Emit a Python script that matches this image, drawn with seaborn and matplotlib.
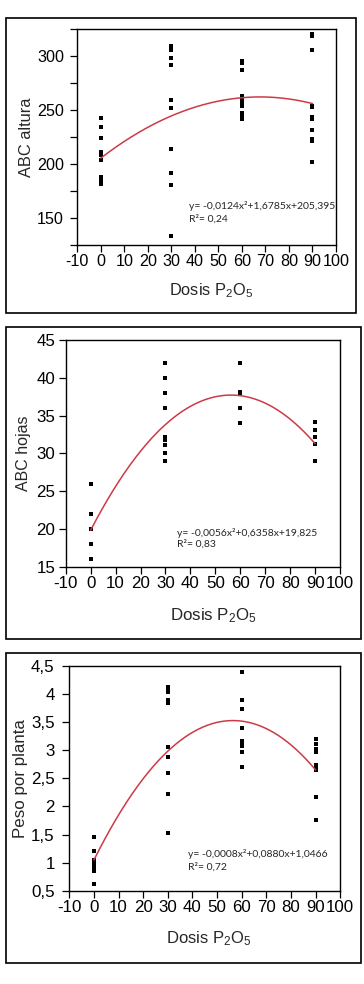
import numpy as np
import pandas as pd
import matplotlib
matplotlib.use("Agg")
import matplotlib.pyplot as plt
from matplotlib.patches import Rectangle
import seaborn as sns

# ---------------- data ----------------
dose_levels = [0, 30, 60, 90]

# Panel 1: ABC altura
altura_0 = [243, 234, 224, 211, 208.6, 203.4, 187.7, 184.7, 181.6]
altura_30 = [309.8, 307.7, 305.8, 298, 292, 259.8, 251.5, 213.8, 191.7, 180.7, 133.2]
altura_60 = [295.4, 293.6, 287.4, 262.9, 260.7, 258.6, 256.1, 253.7, 247, 243.9, 241.4]
altura_90 = [320.5, 318.4, 305.8, 253.7, 252.5, 243.9, 241.7, 231.6, 223, 220.9, 201.9]

# Panel 2: ABC hojas
hojas_0 = [26, 22, 20, 18, 16]
hojas_30 = [42, 40, 38, 36, 32.2, 31.8, 31.1, 30, 29]
hojas_60 = [42, 38.1, 37.9, 36, 34]
hojas_90 = [34.1, 33.1, 32.1, 31.2, 29]

# Panel 3: Peso por planta
peso_0 = [1.448, 1.211, 1.051, 0.992, 0.932, 0.885, 0.844, 0.624]
peso_30 = [4.132, 4.085, 4.038, 3.895, 3.848, 3.066, 2.876, 2.604, 2.218, 1.519]
peso_60 = [4.39, 3.895, 3.735, 3.403, 3.172, 3.125, 3.078, 2.977, 2.698]
peso_90 = [3.196, 3.113, 3.024, 2.977, 2.739, 2.698, 2.651, 2.165, 1.750]

# quadratic trend coefficients (a, b, c) as drawn
coef_altura = [-0.0124, 1.6785, 205.395]
coef_hojas = [-0.00565, 0.6358, 19.825]
coef_peso = [-0.00078, 0.0880, 1.0466]

eq_altura = ["y= -0,0124x\u00b2+1,6785x+205,395", "R\u00b2= 0,24"]
eq_hojas = ["y= -0,0056x\u00b2+0,6358x+19,825", "R\u00b2= 0,83"]
eq_peso = ["y= -0,0008x\u00b2+0,0880x+1,0466", "R\u00b2= 0,72"]

x_ticks = [-10, 0, 10, 20, 30, 40, 50, 60, 70, 80, 90, 100]
x_ticklabels = ["-10", "0", "10", "20", "30", "40", "50", "60", "70", "80", "90", "100"]

y1_ticks = [125, 150, 175, 200, 225, 250, 275, 300, 325]
y1_ticklabels = ["", "150", "", "200", "", "250", "", "300", ""]
y2_ticks = [15, 20, 25, 30, 35, 40, 45]
y2_ticklabels = ["15", "20", "25", "30", "35", "40", "45"]
y3_ticks = [0.5, 1, 1.5, 2, 2.5, 3, 3.5, 4, 4.5]
y3_ticklabels = ["0,5", "1", "1,5", "2", "2,5", "3", "3,5", "4", "4,5"]

ylabels = ["ABC altura", "ABC hojas", "Peso por planta"]
xlabel = "Dosis P$_2$O$_5$"

# ---------------- style ----------------
sns.set_style("ticks")
plt.rcParams["font.family"] = ["Liberation Sans", "DejaVu Sans"]
plt.rcParams["mathtext.fontset"] = "custom"
plt.rcParams["mathtext.rm"] = "Liberation Sans"
plt.rcParams["mathtext.it"] = "Liberation Sans"
plt.rcParams["mathtext.default"] = "regular"

W, H = 364, 984
fig = plt.figure(figsize=(W / 100, H / 100), dpi=100)


def frac_rect(l, t, r, b):
    return [l / W, 1 - b / H, (r - l) / W, (b - t) / H]


def long_df(groups):
    xs, ys = [], []
    for d, vals in zip(dose_levels, groups):
        xs += [d] * len(vals)
        ys += list(vals)
    return pd.DataFrame({"dosis": xs, "valor": ys})


panels = [
    dict(ax=(77.3, 29.3, 336, 244.7), box=(6, 17.5, 355.5, 312.7),
         groups=[altura_0, altura_30, altura_60, altura_90], coef=coef_altura,
         ylim=(125, 325), yticks=y1_ticks, yticklabels=y1_ticklabels,
         ylabel=ylabels[0], ylabel_px=27, ylabel_fs=11.8,
         xlabel_py=291, xlabel_px=211, xlabel_fs=11.8, tick_fs=11.6, ypad=4.5,
         eq=eq_altura, eq_pos=(189, 206, 219)),
    dict(ax=(65.7, 340, 340, 566.7), box=(6, 326.7, 361, 639),
         groups=[hojas_0, hojas_30, hojas_60, hojas_90], coef=coef_hojas,
         ylim=(15, 45), yticks=y2_ticks, yticklabels=y2_ticklabels,
         ylabel=ylabels[1], ylabel_px=24, ylabel_fs=11.5,
         xlabel_py=616, xlabel_px=213, xlabel_fs=12.2, tick_fs=12.2, ypad=2.5,
         eq=eq_hojas, eq_pos=(177, 533, 544.5)),
    dict(ax=(69.3, 666, 340.3, 890.7), box=(6, 653, 361, 963),
         groups=[peso_0, peso_30, peso_60, peso_90], coef=coef_peso,
         ylim=(0.5, 4.5), yticks=y3_ticks, yticklabels=y3_ticklabels,
         ylabel=ylabels[2], ylabel_px=21, ylabel_fs=12.2,
         xlabel_py=939, xlabel_px=209, xlabel_fs=12, tick_fs=12.2, ypad=5.5,
         eq=eq_peso, eq_pos=(188, 854, 867)),
]

for p in panels:
    l, t, r, b = p["ax"]
    ax = fig.add_axes(frac_rect(l, t, r, b))
    df = long_df(p["groups"])
    sns.scatterplot(data=df, x="dosis", y="valor", ax=ax, marker="s", s=7,
                    color="black", linewidth=0, legend=False)
    xs = np.linspace(0, 90, 200)
    curve = pd.DataFrame({"dosis": xs, "valor": np.polyval(p["coef"], xs)})
    sns.lineplot(data=curve, x="dosis", y="valor", ax=ax, color="#cc3a46",
                 linewidth=1.1, legend=False)

    ax.set_xlim(-10, 100)
    ax.set_ylim(*p["ylim"])
    ax.set_xticks(x_ticks)
    ax.set_xticklabels(x_ticklabels, fontsize=p["tick_fs"])
    ax.set_yticks(p["yticks"])
    ax.set_yticklabels(p["yticklabels"], fontsize=p["tick_fs"])
    ax.tick_params(axis="both", direction="out", length=5, width=0.9,
                   colors="black", top=False, right=False)
    ax.tick_params(axis="x", pad=1.5)
    ax.tick_params(axis="y", pad=p["ypad"])
    for sp in ax.spines.values():
        sp.set_visible(True)
        sp.set_linewidth(1.0)
        sp.set_color("black")
    ax.set_xlabel("")
    ax.set_ylabel("")
    ax.set_facecolor("white")

    # axis titles
    fig.text(p["ylabel_px"] / W, 1 - ((t + b) / 2) / H, p["ylabel"],
             rotation=90, ha="center", va="center", fontsize=p["ylabel_fs"])
    fig.text(p["xlabel_px"] / W, 1 - p["xlabel_py"] / H, xlabel,
             ha="center", va="center", fontsize=p["xlabel_fs"])

    # equation
    ex, ey1, ey2 = p["eq_pos"]
    fig.text(ex / W, 1 - ey1 / H, p["eq"][0], ha="left", va="center",
             fontsize=7.5, family=["Lato", "DejaVu Sans"])
    fig.text(ex / W, 1 - ey2 / H, p["eq"][1], ha="left", va="center",
             fontsize=7.5, family=["Lato", "DejaVu Sans"])

    # outer frame around each panel
    bl, bt, br, bb = p["box"]
    fig.add_artist(Rectangle((bl / W, 1 - bb / H), (br - bl) / W, (bb - bt) / H,
                             transform=fig.transFigure, fill=False,
                             edgecolor="black", linewidth=1.2))

fig.savefig("out.png", dpi=100, facecolor="white")
